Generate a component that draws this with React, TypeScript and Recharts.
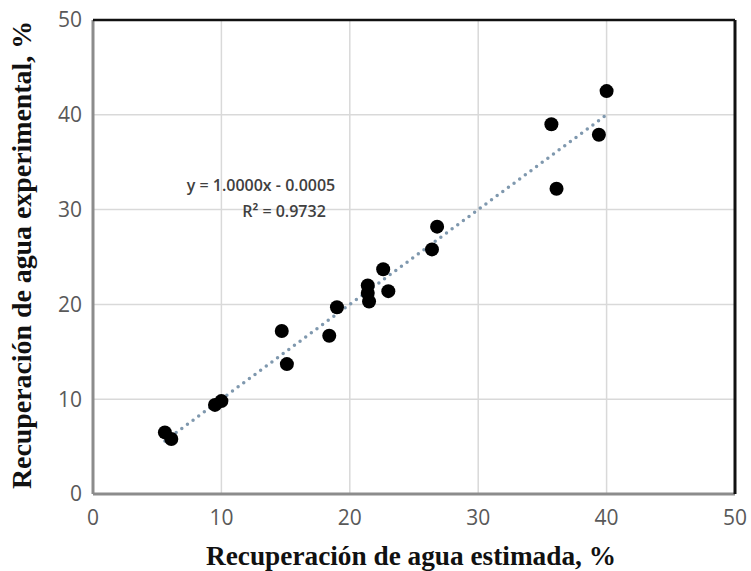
import React from 'react';
import { ScatterChart, Scatter, XAxis, YAxis, CartesianGrid, ReferenceLine } from 'recharts';

// estimated vs experimental water recovery, %
const estimated = [5.6, 6.1, 9.5, 10.0, 14.7, 15.1, 18.4, 19.0, 21.4, 21.4, 21.5, 22.6, 23.0, 26.4, 26.8, 35.7, 36.1, 39.4, 40.0];
const experimental = [6.5, 5.8, 9.4, 9.8, 17.2, 13.7, 16.7, 19.7, 22.0, 21.2, 20.3, 23.7, 21.4, 25.8, 28.2, 39.0, 32.2, 37.9, 42.5];

const axisTicks = [0, 10, 20, 30, 40, 50];

// linear fit shown on the chart
const slope = 1.0;
const intercept = -0.0005;
const rSquared = 0.9732;

const points = estimated.map((x, i) => ({ x, y: experimental[i] }));
const xMin = Math.min(...estimated);
const xMax = Math.max(...estimated);
const trend = [
  { x: xMin, y: slope * xMin + intercept },
  { x: xMax, y: slope * xMax + intercept },
];

const tickStyle = { fill: '#595959', fontSize: 21, fontFamily: 'Open Sans' };
const titleStyle: React.CSSProperties = {
  fontFamily: 'Liberation Serif',
  fontWeight: 'bold',
  fontSize: 27,
  fill: '#111',
};

const XTitle = (props: any) => {
  const { x, width } = props.viewBox;
  return (
    <text
      x={x + width / 2 - 3}
      y={565}
      textAnchor="middle"
      textLength={410}
      lengthAdjust="spacingAndGlyphs"
      style={titleStyle}
    >
      Recuperación de agua estimada, %
    </text>
  );
};

const YTitle = (props: any) => {
  const { y, height } = props.viewBox;
  const cy = y + height / 2 - 2;
  return (
    <text
      x={31}
      y={cy}
      textAnchor="middle"
      textLength={468}
      lengthAdjust="spacingAndGlyphs"
      transform={`rotate(-90 31 ${cy})`}
      style={titleStyle}
    >
      Recuperación de agua experimental, %
    </text>
  );
};

const Dot = (props: any) => <circle cx={props.cx} cy={props.cy} r={7} fill="#000" />;

const App: React.FC = () => {
  return (
    <div style={{ position: 'absolute', left: 0, top: 0, width: 751, height: 571, background: '#fff' }}>
      <ScatterChart width={751} height={571} margin={{ top: 20, right: 16, bottom: 0, left: 0 }}>
        <CartesianGrid stroke="#d9d9d9" strokeWidth={1.5} />
        <XAxis
          type="number"
          dataKey="x"
          domain={[0, 50]}
          ticks={axisTicks}
          height={77}
          axisLine={false}
          tickLine={false}
          tickSize={0}
          tickMargin={16}
          tick={tickStyle}
          label={{ content: XTitle }}
        />
        <YAxis
          type="number"
          dataKey="y"
          domain={[0, 50]}
          ticks={axisTicks}
          width={93}
          axisLine={false}
          tickLine={false}
          tickSize={0}
          tickMargin={11}
          tick={tickStyle}
          label={{ content: YTitle }}
        />
        <ReferenceLine x={0} stroke="#8c8c8c" strokeWidth={3} />
        <ReferenceLine y={0} stroke="#8c8c8c" strokeWidth={3} />
        <ReferenceLine x={50} stroke="#111" strokeWidth={3} />
        <ReferenceLine y={50} stroke="#111" strokeWidth={2.5} />
        <Scatter
          data={trend}
          line={{ stroke: '#7f98ae', strokeWidth: 3.5, strokeDasharray: '0 7', strokeLinecap: 'round' }}
          shape={() => null}
          isAnimationActive={false}
        />
        <Scatter data={points} shape={Dot} isAnimationActive={false} />
        <text x={261} y={191} textAnchor="middle" fontFamily="Open Sans" fontWeight={600} fontSize={16} fill="#404040">
          {`y = ${slope.toFixed(4)}x - ${Math.abs(intercept).toFixed(4)}`}
        </text>
        <text x={284} y={217} textAnchor="middle" fontFamily="Open Sans" fontWeight={600} fontSize={16} fill="#404040">
          {`R² = ${rSquared}`}
        </text>
      </ScatterChart>
    </div>
  );
};

export default App;
